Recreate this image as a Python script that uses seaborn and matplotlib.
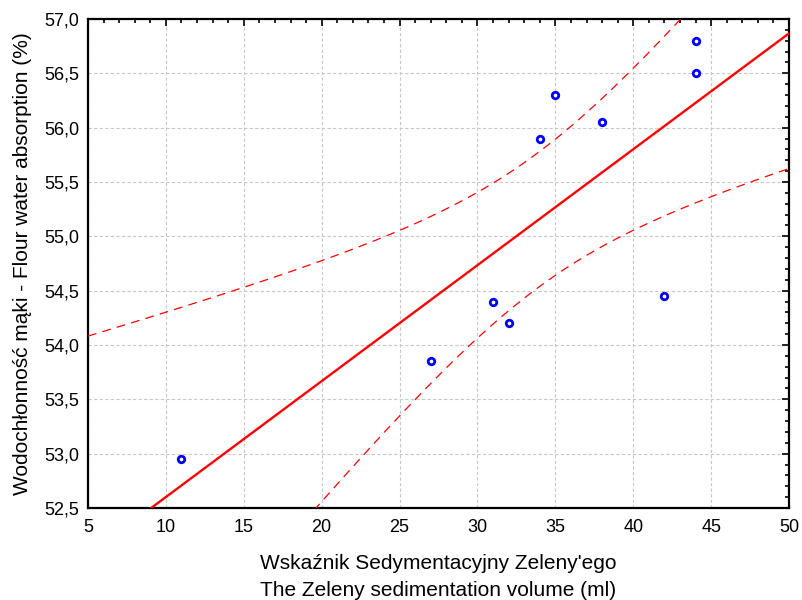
import matplotlib
matplotlib.use("Agg")
import matplotlib.pyplot as plt
import numpy as np
import pandas as pd
import seaborn as sns
from matplotlib.ticker import MultipleLocator, FuncFormatter

# Data
sedimentation = [11, 27, 31, 32, 34, 35, 38, 42, 44, 44]
absorption = [52.95, 53.85, 54.40, 54.20, 55.90, 56.30, 56.05, 54.45, 56.50, 56.80]

df = pd.DataFrame({"x": sedimentation, "y": absorption})

sns.set_style("white")
plt.rcParams["font.family"] = ["Liberation Sans", "DejaVu Sans"]
plt.rcParams["text.color"] = "black"
plt.rcParams["axes.labelcolor"] = "black"

fig = plt.figure(figsize=(8.03, 6.0), dpi=100)
ax = fig.add_axes([0.1096, 0.1533, 0.873, 0.815])
ax.set_xlim(5, 50)
ax.set_ylim(52.5, 57.0)

sns.regplot(
    data=df,
    x="x",
    y="y",
    ax=ax,
    ci=None,
    truncate=False,
    scatter_kws=dict(marker="o", s=22, facecolors="white", edgecolors="#0000ff",
                     linewidths=2, alpha=1, zorder=5),
    line_kws=dict(color="#ff0000", linewidth=1.7, zorder=4),
)

# 95% confidence band of the regression line
x = np.asarray(sedimentation, dtype=float)
y = np.asarray(absorption, dtype=float)
n = len(x)
slope, intercept = np.polyfit(x, y, 1)
resid = y - (intercept + slope * x)
s = np.sqrt(np.sum(resid ** 2) / (n - 2))
t_crit = 2.306  # t(0.975, df=8)
sxx = np.sum((x - x.mean()) ** 2)
xs = np.linspace(5, 50, 300)
ys = intercept + slope * xs
half = t_crit * s * np.sqrt(1 / n + (xs - x.mean()) ** 2 / sxx)
for band in (ys + half, ys - half):
    ax.plot(xs, band, color="#ff0000", linewidth=0.9, linestyle=(0, (7, 5)), zorder=3)

ax.xaxis.set_major_locator(MultipleLocator(5))
ax.xaxis.set_minor_locator(MultipleLocator(1))
ax.yaxis.set_major_locator(MultipleLocator(0.5))
ax.yaxis.set_minor_locator(MultipleLocator(0.1))
ax.xaxis.set_major_formatter(FuncFormatter(lambda v, p: f"{v:.0f}"))
ax.yaxis.set_major_formatter(FuncFormatter(lambda v, p: f"{v:.1f}".replace(".", ",")))

ax.tick_params(which="both", direction="in", top=True, right=True, colors="black",
               labelcolor="black", labelsize=13, width=1.2)
ax.tick_params(which="major", length=5, pad=6)
ax.tick_params(axis="x", which="major", pad=8)
ax.tick_params(which="minor", length=3)

ax.grid(True, which="major", color="#c8c8c8", linestyle=(0, (3, 2)), linewidth=0.8)
for sp in ax.spines.values():
    sp.set_color("black")
    sp.set_linewidth(1.6)

ax.set_xlabel("Wskaźnik Sedymentacyjny Zeleny'ego\nThe Zeleny sedimentation volume (ml)",
              fontsize=15, labelpad=13, linespacing=1.55, color="black")
ax.set_ylabel("Wodochłonność mąki - Flour water absorption (%)", fontsize=15,
              labelpad=9, color="black")

fig.savefig("out.png", dpi=100)
